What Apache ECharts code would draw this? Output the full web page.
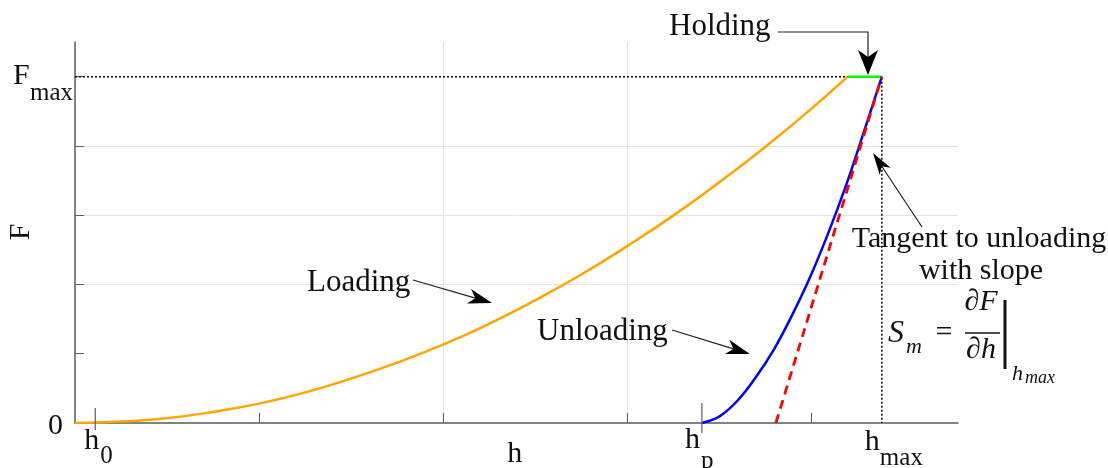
<!DOCTYPE html>
<html><head><meta charset="utf-8">
<script src="https://cdn.jsdelivr.net/npm/echarts@6/dist/echarts.min.js"></script>
<style>html,body{margin:0;padding:0;background:#fff}#c{width:1108px;height:468px}</style>
</head><body><div id="c"></div>
<script>
// ---- data ----
const loadH = [0, 0.25, 0.5, 0.75, 1.0, 1.25, 1.5, 1.75, 2.0, 2.25, 2.5, 2.75, 3.0, 3.25, 3.5, 3.75, 4.0, 4.2];
const loadF = [0, 0.02, 0.07, 0.16, 0.28, 0.44, 0.64, 0.87, 1.13, 1.43, 1.77, 2.14, 2.55, 2.99, 3.47, 3.98, 4.53, 5.0];
const holdH = [4.2, 4.386];
const holdF = [5.0, 5.0];
const unloadH = [3.408, 3.506, 3.604, 3.701, 3.799, 3.897, 3.995, 4.093, 4.190, 4.288, 4.386];
const unloadF = [0, 0.10, 0.33, 0.66, 1.06, 1.55, 2.10, 2.73, 3.42, 4.20, 5.0];
const tangentH = [3.81, 4.386];
const tangentF = [0, 5.0];
const refH = [0, 4.386, 4.386];
const refF = [5.0, 5.0, 0];
const xTickValues = [1, 2, 3, 4];
const yTickValues = [1, 2, 3, 4, 5];
const markH0 = 0.11, markHp = 3.408, markHmax = 4.386, labelHmid = 2.39, Fmax = 5.0;

const SERIF = '"Liberation Serif","Times New Roman",serif';
const chart = echarts.init(document.getElementById('c'), null, {renderer: 'canvas'});
const pts = (xs, ys) => xs.map((x, i) => [x, ys[i]]);
const AX = '#5a5a5a', GRID = '#e4e4e4';

chart.setOption({
  animation: false,
  grid: {left: 75, right: 150, top: 42, bottom: 45},
  xAxis: {
    type: 'value', min: 0, max: 4.8, interval: 1,
    axisLine: {lineStyle: {color: AX, width: 1.5}},
    axisTick: {inside: true, length: 10, customValues: xTickValues, lineStyle: {color: AX, width: 1}},
    axisLabel: {show: false},
    splitLine: {show: true, showMinLine: false, showMaxLine: false, lineStyle: {color: GRID, width: 1}}
  },
  yAxis: {
    type: 'value', min: 0, max: 5.5, interval: 1,
    axisLine: {show: true, lineStyle: {color: AX, width: 1.5}},
    axisTick: {show: true, inside: true, length: 9, customValues: yTickValues, lineStyle: {color: AX, width: 1}},
    axisLabel: {show: false},
    splitLine: {show: true, showMinLine: false, showMaxLine: false, lineStyle: {color: GRID, width: 1}}
  },
  series: [
    {type: 'line', data: pts(refH, refF), symbol: 'none', lineStyle: {color: '#000', width: 1.5, type: [2, 2]}, z: 2},
    {type: 'line', data: pts(loadH, loadF), symbol: 'none', smooth: true, lineStyle: {color: '#FFA500', width: 2.5}, z: 3},
    {type: 'line', data: pts(holdH, holdF), symbol: 'none', lineStyle: {color: '#00FF00', width: 2.5}, z: 3},
    {type: 'line', data: pts(unloadH, unloadF), symbol: 'none', smooth: 0.4, lineStyle: {color: '#0000FF', width: 2.5}, z: 4},
    {type: 'line', data: pts(tangentH, tangentF), symbol: 'none', lineStyle: {color: '#FF0000', width: 2.8, type: [9, 6]}, z: 5}
  ]
});

const P = (x, y) => chart.convertToPixel({gridIndex: 0}, [x, y]);
const TXT = '#111';
function txt(text, x, y, size, opts) {
  opts = opts || {};
  const font = (opts.italic ? 'italic ' : '') + size + 'px ' + SERIF;
  const a = opts.align || 'left';
  return {type: 'text', x: x, y: y, rotation: opts.rotation || 0, z: 100,
    style: {text: text, font: font, fill: TXT, align: a, textAlign: a, verticalAlign: 'middle', textVerticalAlign: 'middle'}};
}
function line(x1, y1, x2, y2, w, color) {
  return {type: 'line', z: 100, shape: {x1, y1, x2, y2}, style: {stroke: color || '#222', lineWidth: w || 1.2}};
}
function arrow(x1, y1, x2, y2, len, w) {
  const dx = x2 - x1, dy = y2 - y1, L = Math.hypot(dx, dy), ux = dx / L, uy = dy / L, px = -uy, py = ux;
  const bx = x2 - ux * len, by = y2 - uy * len;
  const nx = x2 - ux * len * 0.72, ny = y2 - uy * len * 0.72;
  return [
    line(x1, y1, nx, ny, 1.2, '#222'),
    {type: 'polygon', z: 100, shape: {points: [[x2, y2], [bx + px * w / 2, by + py * w / 2], [nx, ny], [bx - px * w / 2, by - py * w / 2]]}, style: {fill: '#000'}}
  ];
}

const o = P(0, 0), pF = P(0, Fmax), p0 = P(markH0, 0), pp = P(markHp, 0), pm = P(markHmax, 0), pmid = P(labelHmid, 0);
const g = [];
// special ticks
g.push(line(p0[0], o[1] - 15, p0[0], o[1] + 7, 1.2, AX));
g.push(line(pp[0], o[1] - 20, pp[0], o[1] + 10, 1.2, AX));
// y labels
g.push(txt('F', 13, pF[1] - 1, 30));
g.push(txt('max', 30, pF[1] + 17, 25));
g.push(txt('0', 48, o[1] + 3, 30));
g.push(txt('F', 21, 232, 30, {rotation: Math.PI / 2, align: 'center'}));
// x labels
g.push(txt('h', p0[0] - 11, o[1] + 18, 30));
g.push(txt('0', p0[0] + 5, o[1] + 33, 25));
g.push(txt('h', pmid[0], o[1] + 31, 30, {align: 'center'}));
g.push(txt('h', pp[0] - 17, o[1] + 17, 30));
g.push(txt('p', pp[0] - 1, o[1] + 38, 25));
g.push(txt('h', pm[0] - 17, o[1] + 19, 30));
g.push(txt('max', pm[0] - 2, o[1] + 35, 25));
// annotations
g.push(txt('Holding', 669, 27, 31));
g.push({type: 'polyline', z: 100, shape: {points: [[778, 32], [868, 32], [868, 58]]}, style: {stroke: '#222', lineWidth: 1.2, fill: null}});
g.push({type: 'polygon', z: 100, shape: {points: [[868, 75], [858, 50], [868, 57], [878, 50]]}, style: {fill: '#000'}});
g.push(txt('Loading', 307, 283, 31));
g.push(...arrow(413, 280, 492, 303, 24, 15));
g.push(txt('Unloading', 537, 332, 31));
g.push(...arrow(672, 330, 750, 354, 24, 15));
g.push(txt('Tangent to unloading', 979, 239, 30, {align: 'center'}));
g.push(txt('with slope', 981, 271, 30, {align: 'center'}));
g.push(...arrow(922, 227, 873, 153, 22, 13));
// formula S_m = dF/dh | h_max
g.push(txt('S', 888, 334, 32, {italic: true}));
g.push(txt('m', 906, 347, 22, {italic: true}));
g.push(txt('=', 944, 333, 30, {align: 'center'}));
g.push(txt('\u2202F', 981, 302, 30, {italic: true, align: 'center'}));
g.push(line(965, 333, 1000, 333, 1.3, '#111'));
g.push(txt('\u2202h', 981, 350, 30, {italic: true, align: 'center'}));
g.push(line(1005, 300, 1005, 369, 3, '#111'));
g.push(txt('h', 1012, 374, 22, {italic: true}));
g.push(txt('max', 1025, 378, 18, {italic: true}));

chart.setOption({graphic: {elements: g}});
</script></body></html>
